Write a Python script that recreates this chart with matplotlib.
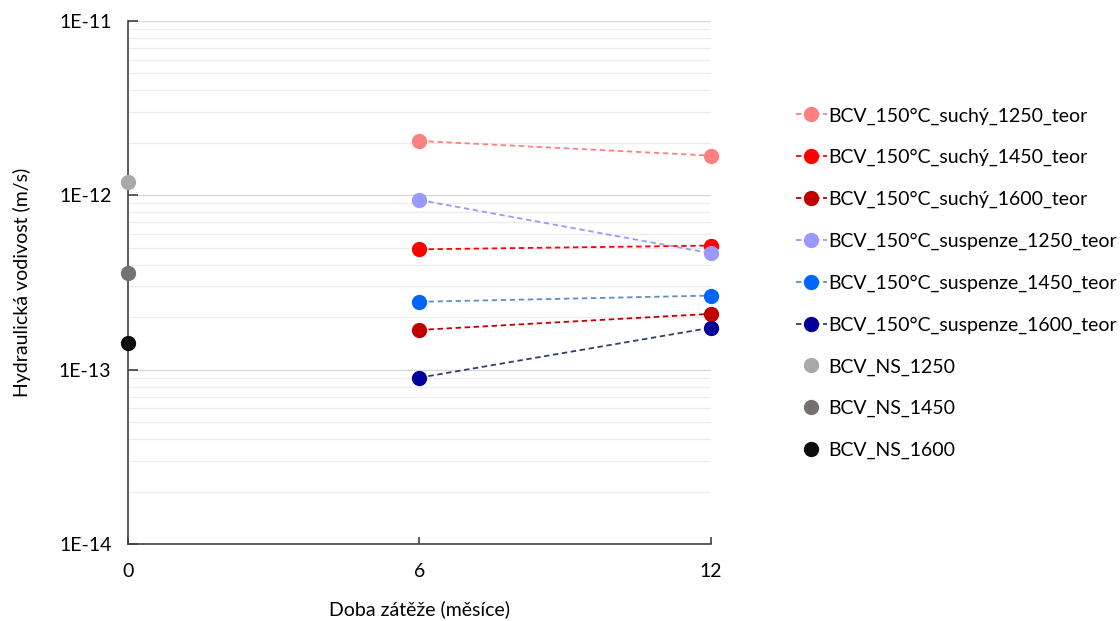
import matplotlib
matplotlib.use("Agg")
import matplotlib.pyplot as plt
from matplotlib.ticker import LogLocator, FixedLocator, NullFormatter

plt.rcParams['font.family'] = ['Lato', 'DejaVu Sans']

months = [6, 12]
series_names = [
    "BCV_150°C_suchý_1250_teor",
    "BCV_150°C_suchý_1450_teor",
    "BCV_150°C_suchý_1600_teor",
    "BCV_150°C_suspenze_1250_teor",
    "BCV_150°C_suspenze_1450_teor",
    "BCV_150°C_suspenze_1600_teor",
]
series_values = [
    [2.05e-12, 1.69e-12],
    [4.9e-13, 5.15e-13],
    [1.69e-13, 2.09e-13],
    [9.4e-13, 4.65e-13],
    [2.45e-13, 2.66e-13],
    [9.0e-14, 1.74e-13],
]
marker_colors = ["#FF8080", "#FF0000", "#C00000", "#9999FF", "#0066FF", "#000099"]
line_colors = ["#FF8080", "#FF0000", "#C00000", "#9999FF", "#5B8FCB", "#2F3F6F"]

ns_names = ["BCV_NS_1250", "BCV_NS_1450", "BCV_NS_1600"]
ns_month = [0]
ns_values = [1.2e-12, 3.58e-13, 1.43e-13]
ns_colors = ["#A9A9A9", "#767171", "#0D0D0D"]

x_ticks = [0, 6, 12]
y_ticks = [1e-14, 1e-13, 1e-12, 1e-11]
y_ticklabels = ["1E-14", "1E-13", "1E-12", "1E-11"]

fig = plt.figure(figsize=(11.2, 6.21), dpi=100)
ax = fig.add_axes([0.1143, 0.124, 0.5205, 0.8422])

for name, vals, mc, lc in zip(series_names, series_values, marker_colors, line_colors):
    ax.plot(months, vals, linestyle=(0, (3, 2)), linewidth=1.3, color=lc,
            marker='o', markersize=10, markerfacecolor=mc, markeredgecolor=mc,
            label=name, zorder=3, clip_on=False)

for name, v, c in zip(ns_names, ns_values, ns_colors):
    ax.plot(ns_month, [v], linestyle='none', marker='o', markersize=10,
            color=c, label=name, zorder=4, clip_on=False)

ax.set_yscale('log')
ax.set_ylim(1e-14, 1e-11)
ax.set_xlim(0, 12)
ax.set_xticks(x_ticks)
ax.set_xticklabels([str(t) for t in x_ticks])
ax.yaxis.set_major_locator(FixedLocator(y_ticks))
ax.set_yticklabels(y_ticklabels)
ax.yaxis.set_minor_locator(LogLocator(base=10, subs=range(2, 10), numticks=20))
ax.yaxis.set_minor_formatter(NullFormatter())

ax.grid(True, which='major', axis='y', color='#D9D9D9', linewidth=1.0, zorder=0)
ax.grid(True, which='minor', axis='y', color='#ECECEC', linewidth=1.0, zorder=0)
ax.set_axisbelow(True)

for s in ['top', 'right']:
    ax.spines[s].set_visible(False)
for s in ['left', 'bottom']:
    ax.spines[s].set_color('#404040')
    ax.spines[s].set_linewidth(1.2)

ax.tick_params(axis='y', which='major', direction='in', length=7, width=1.2,
               color='#404040', labelsize=14, labelcolor='#000000', pad=12)
ax.tick_params(axis='y', which='minor', length=0)
ax.tick_params(axis='x', which='major', direction='in', length=5, width=1.2,
               color='#404040', labelsize=14, labelcolor='#000000', pad=14)

ax.set_ylabel("Hydraulická vodivost (m/s)", fontsize=14, labelpad=20)
ax.set_xlabel("Doba zátěže (měsíce)", fontsize=14, labelpad=14)

leg = ax.legend(loc='upper left', bbox_to_anchor=(1.132, 0.85), frameon=False,
                fontsize=14, labelspacing=1.26, handlelength=1.6, handletextpad=0.05,
                borderaxespad=0)

fig.savefig("out.png", dpi=100)
